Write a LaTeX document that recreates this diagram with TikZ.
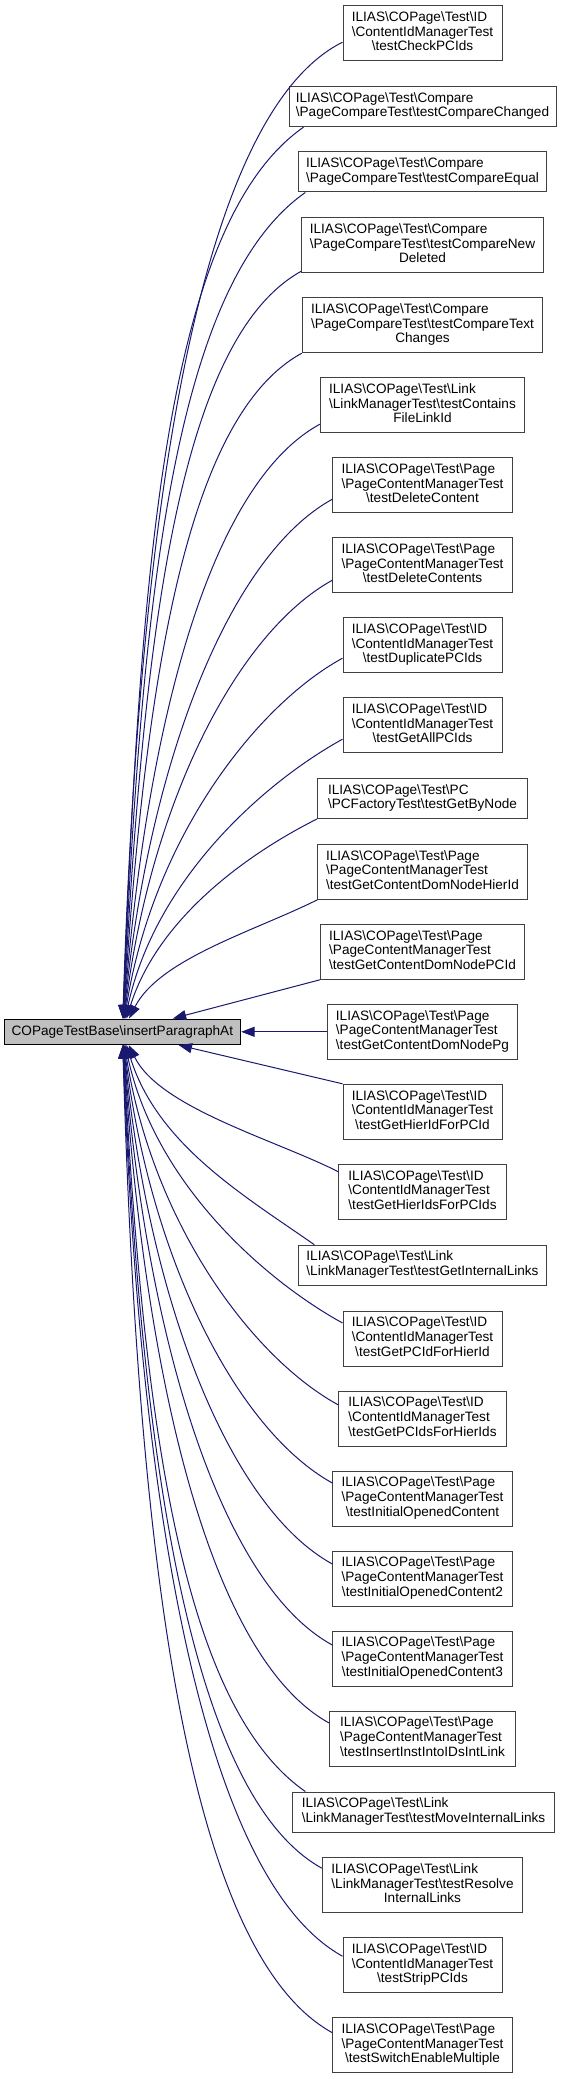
\documentclass[tikz,border=0pt]{standalone}
\usepackage{fontspec}
\setmainfont{Liberation Sans}
\usetikzlibrary{arrows.meta,calc}
\definecolor{edgeblue}{HTML}{191970}
\definecolor{boxborder}{HTML}{404040}
\definecolor{mainfill}{HTML}{BFBFBF}
\newcommand{\bs}{\textbackslash}
\newcommand{\threel}[3]{\begin{tabular}{@{}l@{}}#1\\#2\\\multicolumn{1}{@{}c@{}}{#3}\end{tabular}}
\newcommand{\twol}[2]{\begin{tabular}{@{}l@{}}#1\\#2\end{tabular}}
\begin{document}
\begin{tikzpicture}[x=0.75pt, y=-0.75pt,
  box/.style={draw=boxborder, fill=white, line width=0.75pt, inner sep=0pt, minimum height=41.25pt, font=\fontsize{10.2}{11}\selectfont},
  boxtwo/.style={box, minimum height=30pt},
  mainbox/.style={draw=black, fill=mainfill, line width=0.75pt, inner sep=0pt, minimum width=177.5pt, minimum height=19.2pt, font=\fontsize{10.2}{11}\selectfont},
  edge/.style={draw=edgeblue, line width=0.75pt, -{Triangle[length=10pt,width=7.5pt]}}]
\useasboundingbox (0,0) rectangle (561,2079);

\node[mainbox] (main) at (122.35,1031.8) {COPageTestBase\bs insertParagraphAt};

\node[box, minimum width=119.25pt] (b1) at (422.5,33.2) {\threel{ILIAS\bs COPage\bs Test\bs ID}{\bs ContentIdManagerTest}{\bs testCheckPCIds}};
\node[boxtwo, minimum width=200.25pt] (b2) at (422.5,106.7) {\twol{ILIAS\bs COPage\bs Test\bs Compare}{\bs PageCompareTest\bs testCompareChanged}};
\node[boxtwo, minimum width=185.5pt] (b3) at (422.5,172) {\twol{ILIAS\bs COPage\bs Test\bs Compare}{\bs PageCompareTest\bs testCompareEqual}};
\node[box, minimum width=181pt] (b4) at (422.5,245.2) {\threel{ILIAS\bs COPage\bs Test\bs Compare}{\bs PageCompareTest\bs testCompareNew}{Deleted}};
\node[box, minimum width=180.3pt] (b5) at (422.5,325.2) {\threel{ILIAS\bs COPage\bs Test\bs Compare}{\bs PageCompareTest\bs testCompareText}{Changes}};
\node[box, minimum width=153.2pt] (b6) at (422.5,405.2) {\threel{ILIAS\bs COPage\bs Test\bs Link}{\bs LinkManagerTest\bs testContains}{FileLinkId}};
\node[box, minimum width=134.5pt] (b7) at (422.5,485.2) {\threel{ILIAS\bs COPage\bs Test\bs Page}{\bs PageContentManagerTest}{\bs testDeleteContent}};
\node[box, minimum width=134.5pt] (b8) at (422.5,565.2) {\threel{ILIAS\bs COPage\bs Test\bs Page}{\bs PageContentManagerTest}{\bs testDeleteContents}};
\node[box, minimum width=119.25pt] (b9) at (422.5,645.2) {\threel{ILIAS\bs COPage\bs Test\bs ID}{\bs ContentIdManagerTest}{\bs testDuplicatePCIds}};
\node[box, minimum width=119.25pt] (b10) at (422.5,725.2) {\threel{ILIAS\bs COPage\bs Test\bs ID}{\bs ContentIdManagerTest}{\bs testGetAllPCIds}};
\node[boxtwo, minimum width=157.5pt] (b11) at (422.5,798.5) {\twol{ILIAS\bs COPage\bs Test\bs PC}{\bs PCFactoryTest\bs testGetByNode}};
\node[box, minimum width=157pt] (b12) at (422.5,871.8) {\threel{ILIAS\bs COPage\bs Test\bs Page}{\bs PageContentManagerTest}{\bs testGetContentDomNodeHierId}};
\node[box, minimum width=153.2pt] (b13) at (422.5,951.8) {\threel{ILIAS\bs COPage\bs Test\bs Page}{\bs PageContentManagerTest}{\bs testGetContentDomNodePCId}};
\node[box, minimum width=143pt] (b14) at (422.5,1031.8) {\threel{ILIAS\bs COPage\bs Test\bs Page}{\bs PageContentManagerTest}{\bs testGetContentDomNodePg}};
\node[box, minimum width=119.25pt] (b15) at (422.5,1111.8) {\threel{ILIAS\bs COPage\bs Test\bs ID}{\bs ContentIdManagerTest}{\bs testGetHierIdForPCId}};
\node[box, minimum width=125.3pt] (b16) at (422.5,1191.8) {\threel{ILIAS\bs COPage\bs Test\bs ID}{\bs ContentIdManagerTest}{\bs testGetHierIdsForPCIds}};
\node[boxtwo, minimum width=185.5pt] (b17) at (422.5,1265.2) {\twol{ILIAS\bs COPage\bs Test\bs Link}{\bs LinkManagerTest\bs testGetInternalLinks}};
\node[box, minimum width=119.25pt] (b18) at (422.5,1338.5) {\threel{ILIAS\bs COPage\bs Test\bs ID}{\bs ContentIdManagerTest}{\bs testGetPCIdForHierId}};
\node[box, minimum width=125.3pt] (b19) at (422.5,1418.5) {\threel{ILIAS\bs COPage\bs Test\bs ID}{\bs ContentIdManagerTest}{\bs testGetPCIdsForHierIds}};
\node[box, minimum width=134.5pt] (b20) at (422.5,1498.5) {\threel{ILIAS\bs COPage\bs Test\bs Page}{\bs PageContentManagerTest}{\bs testInitialOpenedContent}};
\node[box, minimum width=134.5pt] (b21) at (422.5,1578.5) {\threel{ILIAS\bs COPage\bs Test\bs Page}{\bs PageContentManagerTest}{\bs testInitialOpenedContent2}};
\node[box, minimum width=134.5pt] (b22) at (422.5,1658.5) {\threel{ILIAS\bs COPage\bs Test\bs Page}{\bs PageContentManagerTest}{\bs testInitialOpenedContent3}};
\node[box, minimum width=139.3pt] (b23) at (422.5,1738.5) {\threel{ILIAS\bs COPage\bs Test\bs Page}{\bs PageContentManagerTest}{\bs testInsertInstIntoIDsIntLink}};
\node[boxtwo, minimum width=196pt] (b24) at (423.5,1812) {\twol{ILIAS\bs COPage\bs Test\bs Link}{\bs LinkManagerTest\bs testMoveInternalLinks}};
\node[box, minimum width=150.2pt] (b25) at (422.5,1885.2) {\threel{ILIAS\bs COPage\bs Test\bs Link}{\bs LinkManagerTest\bs testResolve}{InternalLinks}};
\node[box, minimum width=119.25pt] (b26) at (422.5,1965.2) {\threel{ILIAS\bs COPage\bs Test\bs ID}{\bs ContentIdManagerTest}{\bs testStripPCIds}};
\node[box, minimum width=134.5pt] (b27) at (422.5,2045.2) {\threel{ILIAS\bs COPage\bs Test\bs Page}{\bs PageContentManagerTest}{\bs testSwitchEnableMultiple}};

\draw[edge] ($(b1.west)+(0,9)$) .. controls +(-148,74) and +(16,-501) .. (main);
\draw[edge] ($(b2.south west)+(15,0)$) .. controls +(-139,97) and +(18,-459) .. (main);
\draw[edge] ($(b3.south west)+(7,0)$) .. controls +(-133,93) and +(19,-426) .. (main);
\draw[edge] ($(b4.south west)+(0,-2)$) .. controls +(-125,69) and +(21,-387) .. (main);
\draw[edge] (b5.south west) .. controls +(-117,64) and +(23,-347) .. (main);
\draw[edge] ($(b6.west)+(0,19)$) .. controls +(-110,60) and +(25,-310) .. (main);
\draw[edge] ($(b7.west)+(0,14)$) .. controls +(-102,56) and +(27,-273) .. (main);
\draw[edge] ($(b8.west)+(0,15)$) .. controls +(-94,52) and +(29,-233) .. (main);
\draw[edge] ($(b9.west)+(0,13)$) .. controls +(-86,47) and +(31,-194) .. (main);
\draw[edge] ($(b10.west)+(0,14)$) .. controls +(-78,43) and +(33,-153) .. (main);
\draw[edge] (b11.south west) .. controls +(-70,35) and +(35,-113) .. (main);
\draw[edge] (b12.south west) .. controls +(-62,31) and +(37,-73) .. (main);
\draw[edge] (b13.south west) -- (main);
\draw[edge] (b14.west) -- (main.east);
\draw[edge] (b15.north west) -- (main);
\draw[edge] ($(b16.west)+(0,-20)$) .. controls +(-63,-32) and +(37,76) .. (main);
\draw[edge] ($(b17.north west)+(16,0)$) .. controls +(-70,-49) and +(35,113) .. (main);
\draw[edge] ($(b18.west)+(0,-15.5)$) .. controls +(-78,-43) and +(33,152) .. (main);
\draw[edge] ($(b19.west)+(0,-13.5)$) .. controls +(-86,-47) and +(31,193) .. (main);
\draw[edge] ($(b20.west)+(0,-15.5)$) .. controls +(-94,-52) and +(29,232) .. (main);
\draw[edge] ($(b21.west)+(0,-14.5)$) .. controls +(-102,-56) and +(27,273) .. (main);
\draw[edge] ($(b22.west)+(0,-13.5)$) .. controls +(-110,-60) and +(25,313) .. (main);
\draw[edge] ($(b23.west)+(0,-15.5)$) .. controls +(-118,-65) and +(23,352) .. (main);
\draw[edge] ($(b24.north west)+(13,0)$) .. controls +(-125,-87) and +(21,386) .. (main);
\draw[edge] ($(b25.west)+(0,-17)$) .. controls +(-132,-73) and +(19,425) .. (main);
\draw[edge] ($(b26.west)+(0,-9)$) .. controls +(-141,-78) and +(17,469) .. (main);
\draw[edge] ($(b27.west)+(0,-12.5)$) .. controls +(-149,-82) and +(15,507) .. (main);
\end{tikzpicture}
\end{document}
